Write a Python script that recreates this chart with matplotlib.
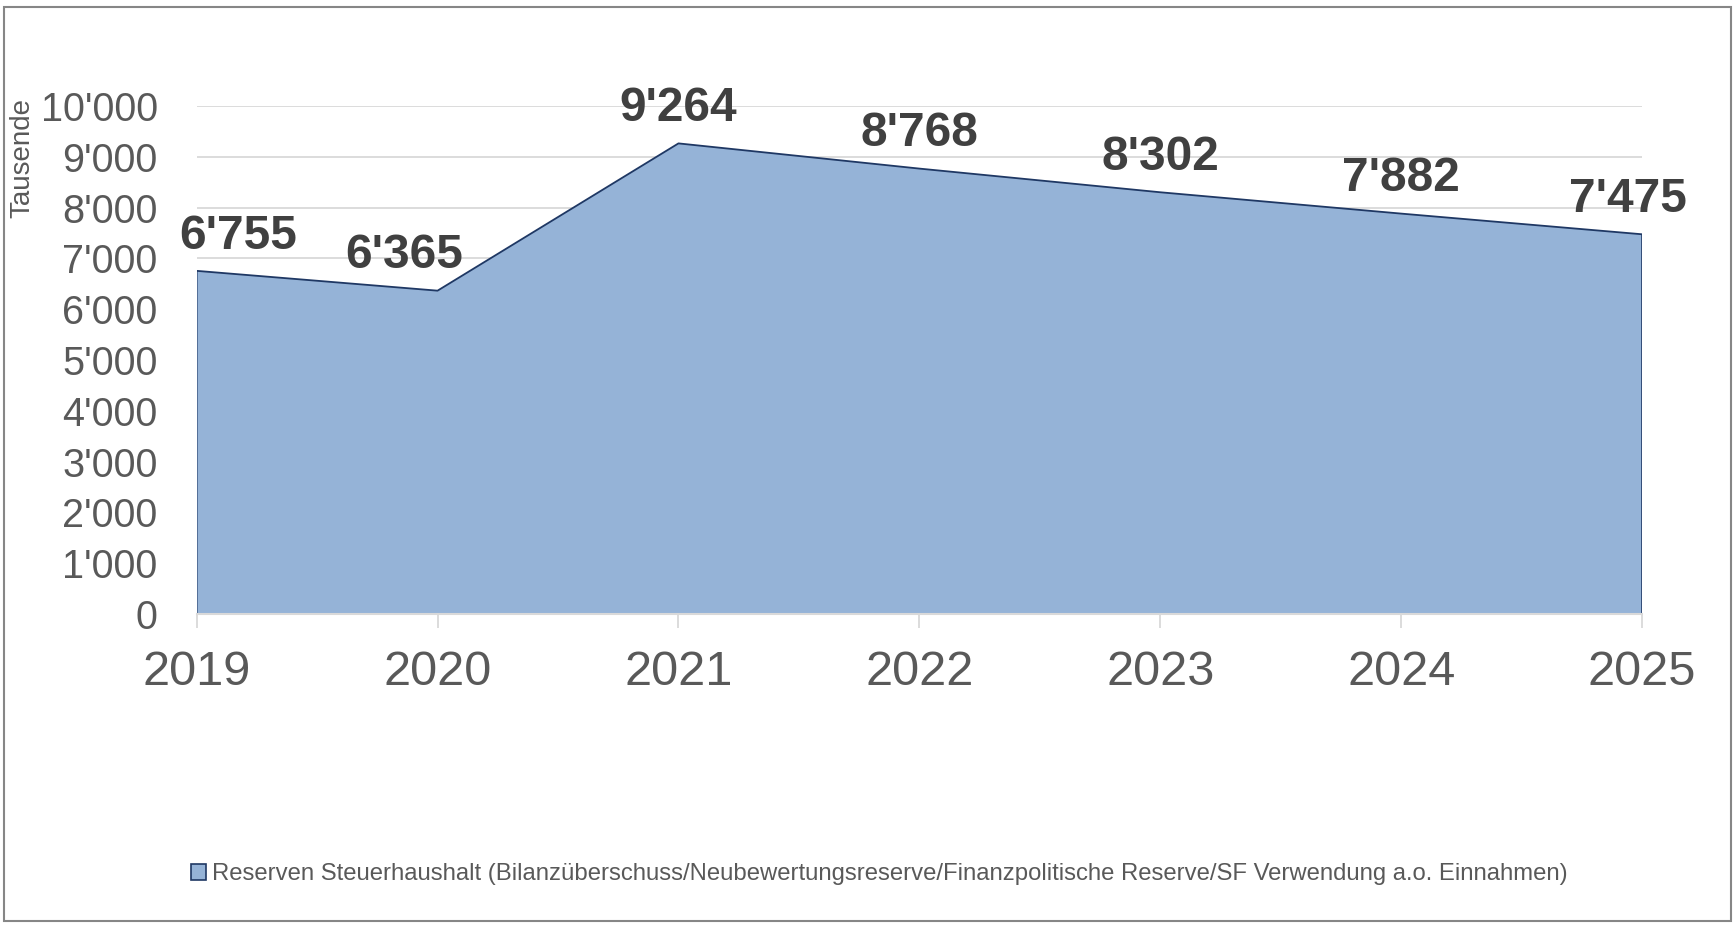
import numpy as np
import matplotlib
matplotlib.use('Agg')
import matplotlib.pyplot as plt
from matplotlib.patches import Patch, Rectangle
from matplotlib.ticker import FuncFormatter

plt.rcParams['font.family'] = ['Liberation Sans', 'DejaVu Sans']

years = ['2019', '2020', '2021', '2022', '2023', '2024', '2025']
reserves = [6755, 6365, 9264, 8768, 8302, 7882, 7475]
series_name = ('Reserven Steuerhaushalt (Bilanzüberschuss/Neubewertungsreserve/'
               'Finanzpolitische Reserve/SF Verwendung a.o. Einnahmen)')
y_ticks = [0, 1000, 2000, 3000, 4000, 5000, 6000, 7000, 8000, 9000, 10000]

# label shifts in points (Excel nudges the edge labels)
label_dx = [30, -24, 0, 0, 0, 0, -10]


def fmt(v, pos=None):
    return f"{int(v):,}".replace(",", "'")


fig = plt.figure(figsize=(17.34, 9.25), dpi=100)
ax = fig.add_axes([0.1134, 0.3362, 0.8336, 0.5492])

x = np.arange(len(years))
ax.fill_between(x, reserves, 0, facecolor='#95B3D7', edgecolor='none', zorder=2)
ax.plot(np.r_[x[0], x, x[-1]], np.r_[0, reserves, 0], color='#1F3864', lw=1.3, zorder=3)

ax.set_xlim(x[0], x[-1])
ax.set_ylim(0, 10000)
ax.set_yticks(y_ticks)
ax.yaxis.set_major_formatter(FuncFormatter(fmt))
ax.set_xticks(x)
ax.set_xticklabels(years)
ax.grid(axis='y', color='#D9D9D9', lw=1.3, zorder=0)
ax.set_axisbelow(True)

for s in ['left', 'right', 'top']:
    ax.spines[s].set_visible(False)
ax.spines['bottom'].set_color('#D9D9D9')
ax.spines['bottom'].set_linewidth(1.5)
ax.spines['bottom'].set_zorder(4)

ax.tick_params(axis='y', length=0, pad=28, labelsize=28.5, labelcolor='#595959')
ax.tick_params(axis='x', length=10, width=1.3, color='#D9D9D9', pad=16,
               labelsize=35, labelcolor='#595959')

for xi, v, dx in zip(x, reserves, label_dx):
    ax.annotate(fmt(v), (xi, v), xytext=(dx, 25), textcoords='offset points',
                ha='center', va='center', fontsize=34.5, fontweight='bold',
                color='#404040', zorder=5)

fig.text(0.0127, 0.829, 'Tausende', rotation=90, ha='center', va='center',
         fontsize=20, color='#595959')

fig.legend(handles=[Patch(facecolor='#95B3D7', edgecolor='#1F3864', lw=1.2)],
           labels=[series_name], loc='center', bbox_to_anchor=(0.507, 0.055),
           frameon=False, fontsize=17.2, labelcolor='#595959',
           handlelength=0.65, handleheight=0.65, handletextpad=0.25)

fig.patches.append(Rectangle((0.0025, 0.004), 0.9955, 0.9885, transform=fig.transFigure,
                             fill=False, edgecolor='#868686', lw=1.5))

fig.savefig('out.png', dpi=100)
